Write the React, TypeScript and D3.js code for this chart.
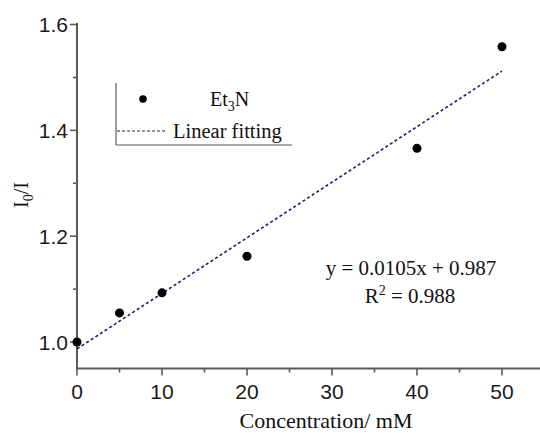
import * as d3 from 'd3'

// measured data (Et3N quenching)
const concentrations = [0, 5, 10, 20, 40, 50]
const ratios = [1.0, 1.055, 1.093, 1.162, 1.366, 1.558]
const fitSlope = 0.0105
const fitIntercept = 0.987
const xMajorTicks = [0, 10, 20, 30, 40, 50]
const xMinorTicks = [5, 15, 25, 35, 45]
const yMajorTicks = [1.0, 1.2, 1.4, 1.6]
const yMinorTicks = [1.1, 1.3, 1.5]

const W = 540
const H = 433
const axisColor = '#5a5a5a'
const fitColor = '#1e1e6e'
const serif = '"Liberation Serif", "Times New Roman", serif'
const sans = '"Liberation Sans", Arial, sans-serif'

export default function App() {
  const x = d3.scaleLinear().domain([0, 55]).range([77, 544.5])
  const y = d3.scaleLinear().domain([0.95, 1.6]).range([368.5, 24.5])
  const x0 = x(0)
  const y0 = y(0.95)

  const fitLine = d3
    .line<number>()
    .x((d) => x(d))
    .y((d) => y(fitSlope * d + fitIntercept))

  return (
    <svg
      width={W}
      height={H}
      style={{ position: 'absolute', left: 0, top: 0, background: '#fff' }}
    >
      {/* axes */}
      <line x1={x0} x2={x0} y1={y(1.6) - 1.5} y2={y0} stroke={axisColor} strokeWidth={2} />
      <line x1={x0 - 1} x2={W} y1={y0} y2={y0} stroke={axisColor} strokeWidth={2} />

      {yMajorTicks.map((t) => (
        <g key={'ym' + t}>
          <line x1={x0 - 7} x2={x0} y1={y(t)} y2={y(t)} stroke={axisColor} strokeWidth={1.6} />
          <text
            x={x0 - 9}
            y={y(t) + 7.5}
            textAnchor="end"
            fontFamily={sans}
            fontSize={21}
            fill="#1a1a1a"
          >
            {t.toFixed(1)}
          </text>
        </g>
      ))}
      {yMinorTicks.map((t) => (
        <line key={'yn' + t} x1={x0 - 4} x2={x0} y1={y(t)} y2={y(t)} stroke={axisColor} strokeWidth={1.6} />
      ))}

      {xMajorTicks.map((t) => (
        <g key={'xm' + t}>
          <line x1={x(t)} x2={x(t)} y1={y0} y2={y0 + 7} stroke={axisColor} strokeWidth={1.6} />
          <text
            x={x(t)}
            y={y0 + 30}
            textAnchor="middle"
            fontFamily={sans}
            fontSize={21}
            fill="#1a1a1a"
          >
            {t}
          </text>
        </g>
      ))}
      {xMinorTicks.map((t) => (
        <line key={'xn' + t} x1={x(t)} x2={x(t)} y1={y0} y2={y0 + 4} stroke={axisColor} strokeWidth={1.6} />
      ))}

      {/* axis titles */}
      <text x={326} y={428} textAnchor="middle" fontFamily={serif} fontSize={22} fill="#111">
        Concentration/ mM
      </text>
      <text
        transform="translate(28,195) rotate(-90)"
        textAnchor="middle"
        fontFamily={serif}
        fontSize={20}
        fill="#111"
      >
        I<tspan fontSize={14} dy={5}>0</tspan>
        <tspan dy={-5}>/I</tspan>
      </text>

      {/* fit */}
      <path
        d={fitLine([0, 50]) ?? ''}
        fill="none"
        stroke={fitColor}
        strokeWidth={1.6}
        strokeDasharray="3,2.5"
      />

      {/* points */}
      {concentrations.map((c, i) => (
        <circle key={c} cx={x(c)} cy={y(ratios[i])} r={4.5} fill="#000" />
      ))}

      {/* legend */}
      <line x1={116} x2={116} y1={83} y2={145} stroke={axisColor} strokeWidth={1.2} />
      <line x1={116} x2={292} y1={145} y2={145} stroke={axisColor} strokeWidth={1.2} />
      <circle cx={143} cy={99} r={3.8} fill="#000" />
      <text x={210} y={106} fontFamily={serif} fontSize={20} fill="#111">
        Et<tspan fontSize={14} dy={5}>3</tspan>
        <tspan dy={-5}>N</tspan>
      </text>
      <line
        x1={117}
        x2={165}
        y1={131}
        y2={131}
        stroke={fitColor}
        strokeWidth={1.2}
        strokeDasharray="3,2"
      />
      <text x={173} y={138} fontFamily={serif} fontSize={20.5} fill="#111">
        Linear fitting
      </text>

      {/* equation */}
      <text x={411} y={275} textAnchor="middle" fontFamily={serif} fontSize={21} fill="#111">
        y = 0.0105x + 0.987
      </text>
      <text x={410} y={303} textAnchor="middle" fontFamily={serif} fontSize={21} fill="#111">
        R<tspan fontSize={14} dy={-8}>2</tspan>
        <tspan dy={8}> = 0.988</tspan>
      </text>
    </svg>
  )
}
